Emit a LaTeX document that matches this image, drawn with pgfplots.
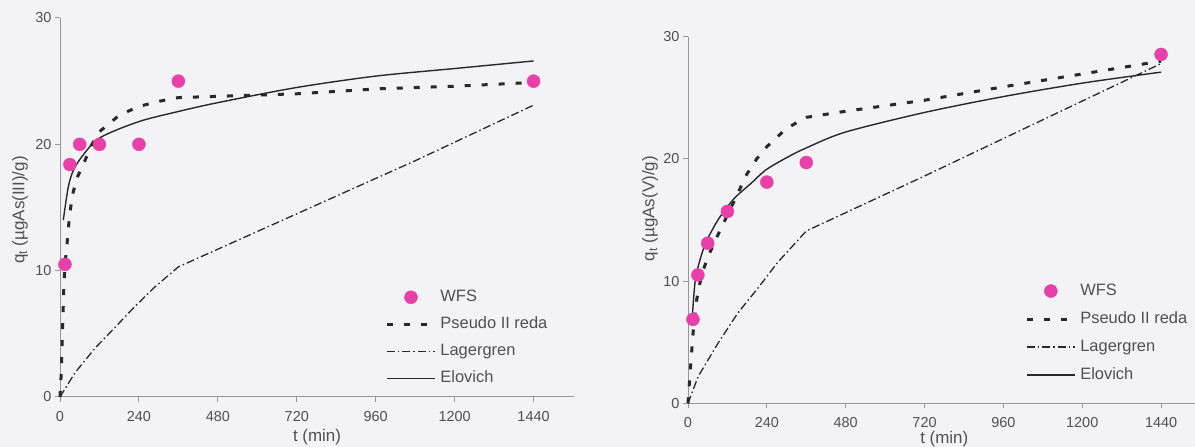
\documentclass[border=0pt]{standalone}
\usepackage{fontspec}
\setmainfont{Liberation Sans}
\usepackage{pgfplots}
\pgfplotsset{compat=1.18}
\definecolor{pinkm}{RGB}{232,64,168}
\definecolor{txt}{RGB}{80,80,80}
\definecolor{axl}{RGB}{150,150,150}
\definecolor{bg}{RGB}{243,243,245}
\definecolor{ln}{RGB}{40,40,40}

\pgfplotsset{
  kin/.style={
    scale only axis,
    axis x line*=bottom, axis y line*=left,
    axis line style={axl, line width=1bp, -},
    xmin=0, ymin=0, ymax=30,
    xtick={0,240,...,1440}, ytick={0,10,20,30},
    minor tick num=0,
    tick align=outside,
    major tick length=5bp,
    tick style={axl, line width=1bp},
    /pgf/number format/assume math mode=true,
    /pgf/number format/1000 sep={},
    ticklabel style={font=\fontsize{14.5}{16}\selectfont, text=txt},
    xticklabel style={yshift=-6bp},
    label style={font=\fontsize{17}{19}\selectfont, text=txt},
    clip=false,
    legend style={draw=none, fill=none, font=\fontsize{16.5}{18}\selectfont, text=txt,
      anchor=north west, row sep=11bp,
      nodes={inner sep=0pt, text height=12bp, text depth=4bp},
      /tikz/every odd column/.append style={column sep=4bp}},
    legend cell align=left,
    legend image code/.code={\draw[mark repeat=2,mark phase=2,##1] plot coordinates {(0bp,0bp) (24bp,0bp) (48bp,0bp)};},
  },
  wfs/.style={only marks, mark=*, mark size=6.5bp, mark options={fill=pinkm, draw=none}, color=pinkm},
  ps/.style={ln, line width=3bp, dash pattern=on 6bp off 11bp, line join=round},
  lg/.style={ln, line width=1.3bp, dash pattern=on 8bp off 3bp on 1.5bp off 3bp, line join=round},
  el/.style={ln, line width=1.4bp, smooth},
}

\begin{document}
\begin{tikzpicture}
\fill[bg] (0bp,0bp) rectangle (1195bp,447bp);
\path[use as bounding box] (0bp,0bp) rectangle (1195bp,447bp);

% ---------- left: As(III)
\begin{axis}[kin, at={(60bp,50bp)}, anchor=south west,
  width=514bp, height=379bp, xmax=1563,
  xlabel={t (min)},
  xlabel style={at={(axis description cs:0.5,0)}, anchor=center, yshift=-40bp},
  ylabel={q\textsubscript{t} (µgAs(III)/g)},
  ylabel style={at={(axis description cs:-0.078,0.493)}, anchor=center},
  legend style={at={(axis description cs:0.627,0.29)}},
]
\addplot[wfs] coordinates {(15,10.5) (30,18.4) (60,20) (120,20) (240,20) (360,25) (1440,25)};
\addplot[ps] coordinates {(0,0) (4,2) (8,5.5) (12,9) (16,10.8) (20,11.7) (25,13.2) (30,14.6) (40,16.2) (51,17.3) (74,18.6) (95,19.9) (120,21.0) (180,22.3) (240,23.0) (300,23.4) (360,23.7) (480,23.8) (720,24.0) (973,24.4) (1200,24.6) (1440,24.9)};
\addplot[lg] coordinates {(0,0) (45,1.9) (106,3.85) (167,5.5) (227,7.15) (288,8.7) (360,10.3) (720,14.5) (1080,18.7) (1440,23.1)};
\addplot[el] coordinates {(10,14.0) (25,16.6) (40,17.9) (66,19.0) (120,20.5) (240,21.8) (360,22.6) (480,23.3) (720,24.5) (960,25.4) (1200,26.0) (1440,26.6)};
\legend{WFS, Pseudo II reda, Lagergren, Elovich}
\end{axis}

% ---------- right: As(V)
\begin{axis}[kin, at={(688bp,43.7bp)}, anchor=south west,
  width=512.5bp, height=366.6bp, xmax=1560,
  xlabel={t (min)},
  xlabel style={at={(axis description cs:0.5,0)}, anchor=center, yshift=-36bp},
  ylabel={q\textsubscript{t} (µgAs(V)/g)},
  ylabel style={at={(axis description cs:-0.074,0.531)}, anchor=center},
  legend style={at={(axis description cs:0.652,0.334)}, row sep=12bp},
]
\addplot[wfs] coordinates {(15,6.87) (30,10.5) (60,13.1) (120,15.7) (240,18.1) (360,19.7) (1440,28.55)};
\addplot[ps] coordinates {(0,0) (5,2) (12,4.5) (17,6.3) (26,8.4) (36,9.8) (46,10.9) (66,12.3) (86,13.5) (111,14.9) (145,16.8) (178,18.7) (209,20.0) (240,21.0) (300,22.5) (360,23.4) (480,23.9) (720,24.8) (960,25.9) (1200,26.95) (1440,28.0)};
\addplot[lg] coordinates {(0,0) (31,2.2) (91,4.9) (152,7.4) (212,9.4) (272,11.5) (360,14.1) (720,18.6) (1080,23.2) (1440,27.8)};
\addplot[el] coordinates {(13,7.1) (21,9.8) (31,11.2) (51,12.95) (76,14.3) (101,15.4) (142,16.8) (192,18.0) (237,19.1) (300,20.1) (360,20.9) (480,22.2) (720,23.8) (960,25.1) (1200,26.2) (1440,27.1)};
\legend{WFS, Pseudo II reda, Lagergren, Elovich}
\end{axis}
\end{tikzpicture}
\end{document}
